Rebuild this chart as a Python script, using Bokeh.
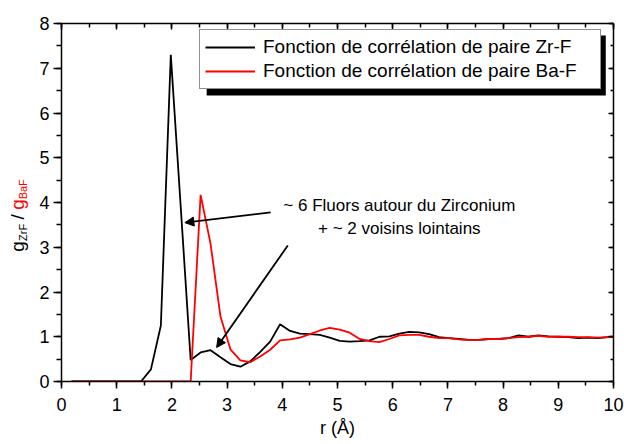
import math
from bokeh.plotting import figure
from bokeh.layouts import row
from bokeh.models import (Range1d, LinearAxis, Legend, LegendItem, Label, Arrow,
                          NormalHead, BoxAnnotation, SingleIntervalTicker,
                          CustomJSTickFormatter)
from bokeh.embed import file_html
from bokeh.resources import INLINE

# ---- data -------------------------------------------------------------
r = [0.18, 0.36, 0.54, 0.72, 0.90, 1.08, 1.26, 1.44, 1.62, 1.80,
     1.98, 2.16, 2.34, 2.52, 2.70, 2.88, 3.06, 3.24, 3.42, 3.60,
     3.78, 3.96, 4.14, 4.32, 4.50, 4.68, 4.86, 5.04, 5.22, 5.40,
     5.58, 5.76, 5.94, 6.12, 6.30, 6.48, 6.66, 6.84, 7.02, 7.20,
     7.38, 7.56, 7.74, 7.92, 8.10, 8.28, 8.46, 8.64, 8.82, 9.00,
     9.18, 9.36, 9.54, 9.72, 9.90, 10.08]

g_zrf = [0, 0, 0, 0, 0, 0, 0, 0.0, 0.27, 1.25,
         7.30, 3.90, 0.48, 0.65, 0.70, 0.54, 0.39, 0.33, 0.45, 0.66,
         0.89, 1.28, 1.13, 1.07, 1.06, 1.04, 0.98, 0.91, 0.89, 0.90,
         0.92, 1.00, 1.01, 1.07, 1.11, 1.10, 1.06, 0.99, 0.97, 0.95,
         0.93, 0.93, 0.95, 0.95, 0.97, 1.03, 1.00, 1.03, 1.01, 1.00,
         0.99, 0.97, 0.98, 0.97, 0.99, 1.00]

g_baf = [0, 0, 0, 0, 0, 0, 0, 0, 0, 0,
         0, 0, 0, 4.17, 3.08, 1.45, 0.72, 0.47, 0.43, 0.56,
         0.71, 0.92, 0.94, 0.98, 1.06, 1.14, 1.20, 1.16, 1.09, 0.95,
         0.90, 0.88, 0.95, 1.03, 1.04, 1.04, 1.00, 0.97, 0.97, 0.94,
         0.93, 0.93, 0.95, 0.95, 0.97, 0.99, 1.00, 1.02, 1.00, 1.00,
         1.00, 0.99, 0.99, 0.98, 0.99, 1.00]

legend_labels = ["Fonction de corrélation de paire Zr-F",
                 "Fonction de corrélation de paire Ba-F"]
note_lines = ["~ 6 Fluors autour du Zirconium", "+ ~ 2 voisins lointains"]
x_title = "r (Å)"
# y title pieces: text, colour, is_subscript
y_title = [("g", "black", False), ("ZrF", "black", True), ("/", "black", False),
           ("g", "#ff0000", False), ("BaF", "#ff0000", True)]

FONT = "Liberation Sans"
LEFT_W = 36

# ---- main figure ----------------------------------------------------------
p = figure(width=624 - LEFT_W, height=444, output_backend="svg",
           toolbar_location=None,
           x_range=Range1d(0, 10), y_range=Range1d(0, 8),
           min_border_left=61 - LEFT_W, min_border_right=11, min_border_top=23,
           min_border_bottom=63, x_axis_location=None, y_axis_location=None)
p.outline_line_color = None
p.grid.visible = False
p.background_fill_color = "white"
p.border_fill_color = "white"

xt = SingleIntervalTicker(interval=1, num_minor_ticks=2)
yt = SingleIntervalTicker(interval=1, num_minor_ticks=2)


def style(ax, tin, tout, mtin, mtout, labels=True):
    ax.axis_line_color = "black"
    ax.axis_line_width = 1.5
    ax.major_tick_line_color = "black"
    ax.major_tick_line_width = 1.5
    ax.minor_tick_line_color = "black"
    ax.minor_tick_line_width = 1.5
    ax.major_tick_in = tin
    ax.major_tick_out = tout
    ax.minor_tick_in = mtin
    ax.minor_tick_out = mtout
    if labels:
        ax.major_label_text_font = FONT
        ax.major_label_text_font_size = "18px"
        ax.major_label_text_color = "black"
    else:
        ax.formatter = CustomJSTickFormatter(code="return ''")
        ax.major_label_standoff = 0


bottom = LinearAxis(ticker=xt)
style(bottom, 0, 7, 0, 4)
bottom.major_label_standoff = 9
bottom.axis_label = x_title
bottom.axis_label_text_font = FONT
bottom.axis_label_text_font_size = "18px"
bottom.axis_label_text_font_style = "normal"
bottom.axis_label_text_color = "black"
bottom.axis_label_standoff = 4
p.add_layout(bottom, "below")

left = LinearAxis(ticker=yt)
style(left, 0, 8, 0, 5)
left.major_label_standoff = 4
p.add_layout(left, "left")

top = LinearAxis(ticker=xt)
style(top, 6, 0, 4, 0, labels=False)
p.add_layout(top, "above")

right = LinearAxis(ticker=yt)
style(right, 5, 0, 3, 0, labels=False)
p.add_layout(right, "right")

# ---- curves -------------------------------------------------------------
l_zr = p.line(r, g_zrf, line_color="black", line_width=1.8)
l_ba = p.line(r, g_baf, line_color="#ff0000", line_width=1.8)

# ---- legend with drop shadow -------------------------------------------
shadow = BoxAnnotation(left=2.63, right=9.86, top=7.73, bottom=6.39,
                       fill_color="black", fill_alpha=1.0, line_color=None)
p.add_layout(shadow)

legend = Legend(items=[LegendItem(label=legend_labels[0], renderers=[l_zr]),
                       LegendItem(label=legend_labels[1], renderers=[l_ba])],
                location=(138, 292), padding=5, spacing=0, margin=0,
                glyph_width=50, glyph_height=24, label_height=24,
                label_width=332, label_standoff=8,
                label_text_font=FONT, label_text_font_size="19px",
                label_text_color="black",
                border_line_color="#222222", border_line_width=1.3,
                background_fill_color="white", background_fill_alpha=1.0)
p.add_layout(legend)

# ---- annotation ----------------------------------------------------------
p.add_layout(Label(x=6.12, y=3.93, text=note_lines[0], text_align="center",
                   text_baseline="middle", text_font=FONT,
                   text_font_size="17px", text_color="black"))
p.add_layout(Label(x=6.12, y=3.42, text=note_lines[1], text_align="center",
                   text_baseline="middle", text_font=FONT,
                   text_font_size="17px", text_color="black"))

head1 = NormalHead(size=9, fill_color="black", line_color="black")
head2 = NormalHead(size=9, fill_color="black", line_color="black")
p.add_layout(Arrow(x_start=3.79, y_start=3.78, x_end=2.235, y_end=3.55,
                   end=head1, line_color="black", line_width=1.8))
p.add_layout(Arrow(x_start=4.10, y_start=3.04, x_end=2.81, y_end=0.76,
                   end=head2, line_color="black", line_width=1.8))

# ---- y-axis title panel, same vertical mapping as the main frame ---------
pl = figure(width=LEFT_W, height=444, output_backend="svg",
            toolbar_location=None, x_range=Range1d(0, LEFT_W),
            y_range=Range1d(0, 8), min_border_left=0, min_border_right=0,
            min_border_top=23, min_border_bottom=63,
            x_axis_location=None, y_axis_location=None)
pl.outline_line_color = None
pl.grid.visible = False
pl.background_fill_color = "white"
pl.border_fill_color = "white"

# baselines in px from left; start positions in axis units (bottom -> top)
ylab_pos = [(17, 2.90), (22, 3.14), (17, 3.62), (17, 3.84), (22, 4.07)]
for (txt, col, sub), (xx, yy) in zip(y_title, ylab_pos):
    pl.add_layout(Label(x=xx, y=yy, text=txt, angle=math.pi / 2,
                        text_align="left", text_baseline="alphabetic",
                        text_font=FONT,
                        text_font_size="11px" if sub else "19px",
                        text_color=col))

layout = row(pl, p)
open("out.html", "w").write(file_html(layout, INLINE))
